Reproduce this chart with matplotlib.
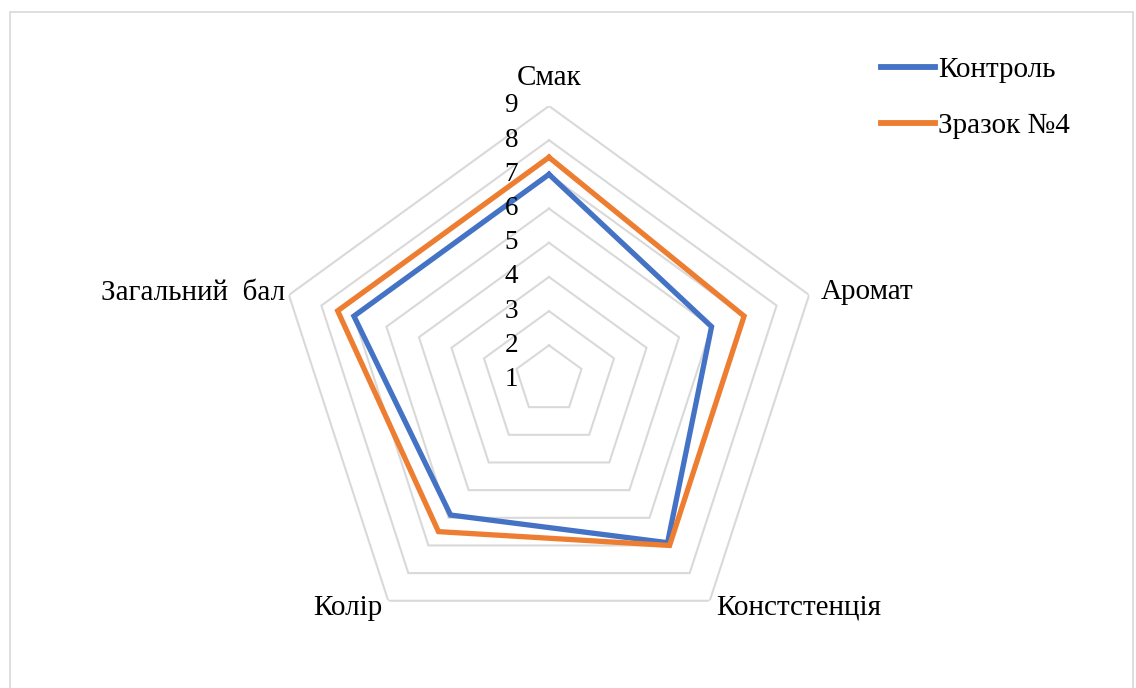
import numpy as np
import matplotlib
matplotlib.use("Agg")
import matplotlib.pyplot as plt
from matplotlib.patches import Rectangle

# Sensory profile data
categories = ["Смак", "Аромат", "Констстенція", "Колір", "Загальний  бал"]
control = [7.0, 6.0, 6.9, 5.9, 7.0]
sample4 = [7.5, 7.0, 7.0, 6.5, 7.5]
series_names = ["Контроль", "Зразок №4"]
levels = [2, 3, 4, 5, 6, 7, 8, 9]
tick_labels = ["1", "2", "3", "4", "5", "6", "7", "8", "9"]
r_min, r_max = 1, 9

plt.rcParams["font.family"] = ["Liberation Serif", "DejaVu Serif"]

W, H = 1136, 688
fig = plt.figure(figsize=(W / 100, H / 100), dpi=100)

# Chart area frame (open at the bottom edge)
fig.patches.append(Rectangle((10 / W, -0.05), (1133 - 10) / W, (H - 12) / H + 0.05,
                             transform=fig.transFigure, fill=False,
                             edgecolor="#d9d9d9", lw=1.2))

cx, cy, R = 549, 379.5, 273.5
ax = fig.add_axes([(cx - R) / W, (H - cy - R) / H, 2 * R / W, 2 * R / H],
                  projection="polar")
ax.set_theta_zero_location("N")
ax.set_theta_direction(-1)
ax.set_ylim(r_min, r_max)
ax.grid(False)
ax.spines["polar"].set_visible(False)
ax.set_xticks([])
ax.set_yticks([])
ax.patch.set_alpha(0)

n = len(categories)
theta = np.linspace(0, 2 * np.pi, n, endpoint=False)
theta_closed = np.append(theta, theta[0])

# Pentagonal gridlines
for lv in levels:
    ax.plot(theta_closed, [lv] * (n + 1), color="#d9d9d9", lw=1.5,
            solid_joinstyle="miter", zorder=1)

# Value labels along the vertical axis
for i, lab in enumerate(tick_labels):
    ax.annotate(lab, xy=(0, r_min + i), xytext=(-31, 0),
                textcoords="offset pixels", ha="right", va="center",
                fontsize=19.5, color="#000000", zorder=3,
                annotation_clip=False)

# Data series
colors = ["#4472C4", "#ED7D31"]
for vals, name, col in zip([control, sample4], series_names, colors):
    ax.plot(theta_closed, vals + vals[:1], color=col, lw=3.8, label=name,
            solid_joinstyle="miter", zorder=2)

# Category labels around the outer ring
offsets = [(0, 28, "center", "center"),
           (12, 3, "left", "center"),
           (6, -7, "left", "center"),
           (-6, -7, "right", "center"),
           (-4, 2, "right", "center")]
for t, lab, (dx, dy, ha, va) in zip(theta, categories, offsets):
    ax.annotate(lab, xy=(t, r_max), xytext=(dx, dy), textcoords="offset pixels",
                ha=ha, va=va, fontsize=21, annotation_clip=False)

handles, labels = ax.get_legend_handles_labels()
leg = fig.legend(handles, labels, loc="upper left",
                 bbox_to_anchor=(881 / W, 1 - 57 / H), frameon=False,
                 fontsize=21, handlelength=1.85, handletextpad=0.1,
                 labelspacing=1.0, borderpad=0, borderaxespad=0)
for h in leg.get_lines():
    h.set_linewidth(4.2)

fig.savefig("out.png", dpi=100, facecolor="white")
